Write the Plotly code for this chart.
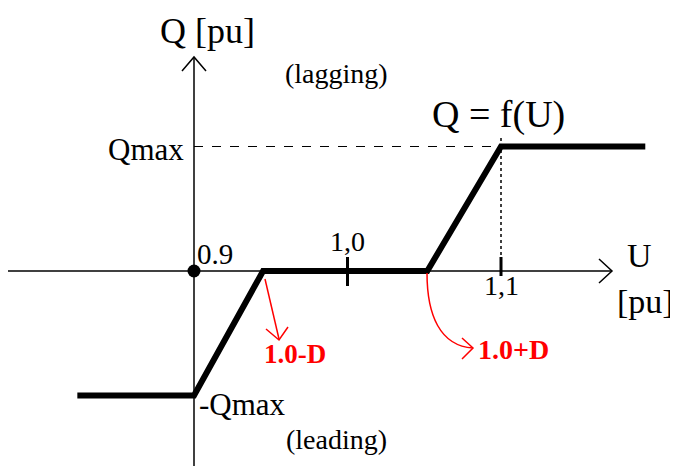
import plotly.graph_objects as go

# Q = f(U) characteristic
u_points = [0.824, 0.9, 0.945, 1.052, 1.1, 1.194]
q_points = [-1, -1, 0, 0, 1, 1]

q_max = 1.0
u_ticks = [1.0, 1.1]
u_tick_labels = ["1,0", "1,1"]

# axis scale: pixels per unit (schematic, no visible axes)
U0, PX_U = 0.9, 1535.0
PX_Q = 124.5
X0_PX, Y0_PX = 194, 271
W, H = 678, 466
PAD = 8  # page body margin around the plot div


def u_at(px):
    return U0 + (px - X0_PX) / PX_U


def q_at(py):
    return (Y0_PX - py) / PX_Q


FONT = "Liberation Serif"
RED = "#ff0000"

fig = go.Figure()

# main characteristic
fig.add_trace(go.Scatter(
    x=u_points, y=q_points, mode="lines",
    line=dict(color="black", width=6),
    hoverinfo="skip", showlegend=False,
))

# origin dot at U = 0.9
fig.add_trace(go.Scatter(
    x=[u_points[1]], y=[0], mode="markers",
    marker=dict(color="black", size=13),
    hoverinfo="skip", showlegend=False,
))

shapes = []
# axes
shapes.append(dict(type="line", x0=u_at(8), x1=u_at(612), y0=0, y1=0,
                   line=dict(color="black", width=1.5)))
shapes.append(dict(type="line", x0=U0, x1=U0, y0=q_at(470), y1=q_at(58),
                   line=dict(color="black", width=1.5)))
# open arrow heads on axes
shapes.append(dict(type="path",
                   path=f"M {u_at(182)},{q_at(71)} L {U0},{q_at(57)} L {u_at(206)},{q_at(71)}",
                   line=dict(color="black", width=1.5)))
shapes.append(dict(type="path",
                   path=f"M {u_at(599)},{q_at(259)} L {u_at(612)},0 L {u_at(599)},{q_at(283)}",
                   line=dict(color="black", width=1.5)))
# ticks (the 1,1 tick is shorter so it clears its label)
for ut, bottom in zip(u_ticks, [286, 276]):
    shapes.append(dict(type="line", x0=ut, x1=ut, y0=q_at(257), y1=q_at(bottom),
                       line=dict(color="black", width=3)))
# Qmax guide lines
shapes.append(dict(type="line", x0=U0, x1=u_points[4], y0=q_max, y1=q_max,
                   line=dict(color="black", width=1, dash="dash")))
shapes.append(dict(type="line", x0=u_points[4], x1=u_points[4], y0=q_at(138), y1=q_at(262),
                   line=dict(color="black", width=1.5, dash="dot")))
# red arrows
shapes.append(dict(type="line", x0=u_at(265), x1=u_at(279), y0=q_at(279), y1=q_at(339),
                   line=dict(color=RED, width=1.5)))
shapes.append(dict(type="path",
                   path=f"M {u_at(266)},{q_at(329)} L {u_at(279)},{q_at(340)} L {u_at(288)},{q_at(327)}",
                   line=dict(color=RED, width=1.5)))
shapes.append(dict(type="path",
                   path=(f"M {u_at(427)},{q_at(273)} C {u_at(427)},{q_at(315)} "
                         f"{u_at(440)},{q_at(346)} {u_at(473)},{q_at(348)}"),
                   line=dict(color=RED, width=1.5)))
shapes.append(dict(type="path",
                   path=f"M {u_at(462)},{q_at(338)} L {u_at(473)},{q_at(348)} L {u_at(462)},{q_at(359)}",
                   line=dict(color=RED, width=1.5)))

annotations = []


def label(text, px, py, size, xanchor="center", color="black", bold=False):
    if bold:
        text = f"<b>{text}</b>"
    annotations.append(dict(
        x=u_at(px), y=q_at(py), text=text, showarrow=False,
        xanchor=xanchor, yanchor="middle",
        font=dict(family=FONT, size=size, color=color),
    ))


label("Q [pu]", 207, 31, 36)
label("(lagging)", 336, 73, 28)
label("Q = f(U)", 498, 114, 38)
label("Qmax", 186, 149, 31, xanchor="right")
label("-Qmax", 197, 404, 31, xanchor="left")
label("(leading)", 336, 439, 28)
label("0.9", 195, 254, 29, xanchor="left")
for ut, tl in zip(u_ticks, u_tick_labels):
    py = 241 if ut == 1.0 else 285
    label(tl, X0_PX + (ut - U0) * PX_U, py, 28)
label("U", 639, 255, 34)
label("[pu]", 645, 301, 34)
label("1.0-D", 295, 354, 27, color=RED, bold=True)
label("1.0+D", 513, 349, 28, color=RED, bold=True)

fig.update_layout(
    width=W - PAD, height=H - PAD,
    margin=dict(l=0, r=0, t=0, b=0),
    paper_bgcolor="white", plot_bgcolor="white",
    xaxis=dict(range=[u_at(PAD), u_at(W)], visible=False, fixedrange=True),
    yaxis=dict(range=[q_at(H), q_at(PAD)], visible=False, fixedrange=True),
    shapes=shapes,
    annotations=annotations,
    showlegend=False,
)

fig.write_html("out.html", config={"displayModeBar": False})
